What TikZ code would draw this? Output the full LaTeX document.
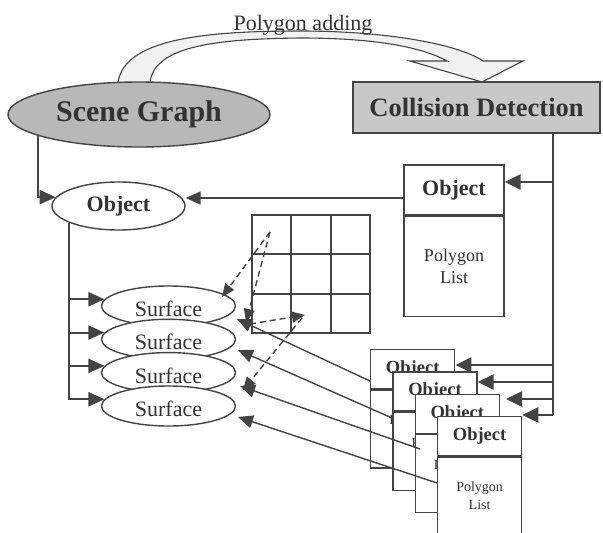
\documentclass[tikz,border=0pt]{standalone}
\usepackage{fontspec}
\setmainfont{Liberation Serif}
\usetikzlibrary{arrows.meta,shapes.geometric,calc}
\definecolor{ink}{HTML}{444444}
\definecolor{txt}{HTML}{333333}
\definecolor{sgfill}{HTML}{B8B8B8}
\definecolor{cdfill}{HTML}{C8C8C8}
\tikzset{
  ln/.style={draw=ink, line width=1.4pt},
  thk/.style={draw=ink, line width=2pt, -{Triangle[length=16pt,width=14pt]}},
  thkr/.style={draw=ink, line width=2.6pt, -{Triangle[length=16pt,width=15pt]}},
  thin/.style={draw=ink, line width=1.4pt, -{Triangle[length=15pt,width=13pt]}},
  dsh/.style={draw=ink, line width=1.4pt, dash pattern=on 6pt off 4pt, -{Triangle[length=13pt,width=11pt]}},
  sgell/.style={ellipse, draw=ink, line width=1.4pt, fill=sgfill, minimum width=262pt, minimum height=65pt, inner sep=0pt,
     font=\fontsize{30}{32}\selectfont\bfseries, text=txt},
  cdbox/.style={rectangle, draw=ink, line width=1.4pt, fill=cdfill, minimum width=247pt, minimum height=51pt, inner sep=0pt,
     font=\fontsize{26.5}{28}\selectfont\bfseries, text=txt},
  oell/.style={ellipse, draw=ink, line width=1.4pt, fill=white, minimum width=133pt, minimum height=48pt, inner sep=0pt,
     font=\fontsize{22}{24}\selectfont\bfseries, text=txt},
  sell/.style={ellipse, draw=ink, line width=1.4pt, fill=white, minimum width=134pt, minimum height=40pt, inner sep=0pt},
  stxt/.style={font=\fontsize{22}{24}\selectfont, text=txt, inner sep=0pt},
  bighead/.style={rectangle, draw=ink, line width=1.4pt, fill=white, minimum width=100pt, minimum height=50pt, inner sep=0pt,
     font=\fontsize{22}{24}\selectfont\bfseries, text=txt},
  bigbody/.style={rectangle, draw=ink, line width=1.4pt, fill=white, minimum width=100pt, minimum height=100pt, inner sep=0pt,
     align=center, font=\fontsize{18}{22}\selectfont, text=txt},
  smhead/.style={rectangle, draw=ink, line width=1.4pt, fill=white, minimum width=84pt, minimum height=39pt, inner sep=0pt,
     font=\fontsize{18.5}{20}\selectfont\bfseries, text=txt},
  smbody/.style={rectangle, draw=ink, line width=1.4pt, fill=white, minimum width=84pt, minimum height=78pt, inner sep=0pt,
     align=center, font=\fontsize{14}{18}\selectfont, text=txt},
}
\begin{document}
\begin{tikzpicture}[x=1pt,y=-1pt]
\useasboundingbox (0,0) rectangle (603,533);
% ---- Polygon adding curved arrow
\draw[ln, line width=1.1pt, fill=gray!10]
  (118,82) .. controls (125,40) and (200,31) .. (300,31)
  .. controls (390,31) and (460,45) .. (483,61)
  -- (523,61) -- (482,82) -- (410,61) -- (447,61)
  .. controls (420,46) and (370,38) .. (300,38)
  .. controls (220,39) and (155,45) .. (150,82);
\node[font=\fontsize{22}{24}\selectfont, text=txt, inner sep=0pt] (padd) at (303,25) {Polygon adding};
% ---- main nodes
\node[sgell] (sg) at (139,114.5) {Scene Graph};
\node[cdbox] (cd) at (476.5,107.5) {Collision Detection};
\node[oell] (obj) at (118.5,206) {Object};
% ---- surfaces
\node[sell] (s1) at (168.5,306) {};
\node[sell] (s2) at (168.5,339.3) {};
\node[sell] (s3) at (168.5,372.6) {};
\node[sell] (s4) at (168.5,406) {};
\node[stxt] (s1t) at ([yshift=-3pt]s1.center) {Surface};
\node[stxt] (s2t) at ([yshift=-3pt]s2.center) {Surface};
\node[stxt] (s3t) at ([yshift=-3pt]s3.center) {Surface};
\node[stxt] (s4t) at ([yshift=-3pt]s4.center) {Surface};
% ---- grid
\node[rectangle, draw=ink, line width=1.4pt, minimum width=118pt, minimum height=118pt, inner sep=0pt] (grid) at (311,274) {};
\draw[ln] ($(grid.north west)!1/3!(grid.north east)$) -- ($(grid.south west)!1/3!(grid.south east)$);
\draw[ln] ($(grid.north west)!2/3!(grid.north east)$) -- ($(grid.south west)!2/3!(grid.south east)$);
\draw[ln] ($(grid.north west)!1/3!(grid.south west)$) -- ($(grid.north east)!1/3!(grid.south east)$);
\draw[ln] ($(grid.north west)!2/3!(grid.south west)$) -- ($(grid.north east)!2/3!(grid.south east)$);
% ---- top object box
\node[bighead] (ob0h) at (454,190) {Object};
\node[bigbody, anchor=north] (ob0b) at (ob0h.south) {Polygon\\List};
% ---- stacked object boxes
\foreach \k in {0,1,2,3}{
  \node[smhead, anchor=north west] (st\k h) at (370+22.3*\k, 349+22.3*\k) {Object};
  \node[smbody, anchor=north] (st\k b) at (st\k h.south) {Polygon\\List};
}
% ---- left connectors
\draw[thk] (sg.-168) |- (obj.172);
\draw[thk] (obj.-161) |- (s4.174);
\draw[thk] (obj.-161 |- s1.174) -- (s1.174);
\draw[thk] (obj.-161 |- s2.174) -- (s2.174);
\draw[thk] (obj.-161 |- s3.174) -- (s3.174);
% ---- right trunk
\coordinate (b0) at (553,182);
\coordinate (b1) at (553,365);
\coordinate (b2) at (553,382);
\coordinate (b3) at (553,399);
\coordinate (b4) at (553,415);
\draw[ink, line width=2.6pt] (cd.south -| b0) -- (b4);
\draw[thkr] (b0) -- (b0 -| ob0h.east);
\draw[thkr] (b1) -- (b1 -| st0h.east);
\draw[thkr] (b2) -- (b2 -| st1h.east);
\draw[thkr] (b3) -- ([xshift=6pt]b3 -| st2h.east);
\draw[thkr] (b4) -- (b4 -| st3h.east);
\draw[thin] ([yshift=-8pt]ob0h.west) -- ([yshift=-8pt]ob0h.west -| obj.east);
% ---- polygon list to surface connectors
\coordinate (p1) at (370,381);
\coordinate (p2) at (392,418);
\coordinate (p3) at (420,449);
\coordinate (p4) at (437,483);
\coordinate (t1) at (237,319);
\coordinate (t2) at (238,350);
\coordinate (t3) at (240,386);
\coordinate (t4) at (238,417);
\draw[thin] (p1) -- (t1);
\draw[thin] (p2) -- (t2);
\draw[thin] (p3) -- (t3);
\draw[thin] (p4) -- (t4);
% ---- dashed traversal arrows
\coordinate (c0) at (270,232);
\coordinate (d1) at (222,297);
\coordinate (d2) at (246,322);
\coordinate (c3) at (250,324);
\coordinate (d3) at (305,315);
\coordinate (c4) at (302,318);
\coordinate (d4) at (243,390);
\draw[dsh] (c0) -- (d1);
\draw[dsh] (c0) -- (d2);
\draw[dsh] (c3) -- (d3);
\draw[dsh] (c4) -- (d4);
\end{tikzpicture}
\end{document}
